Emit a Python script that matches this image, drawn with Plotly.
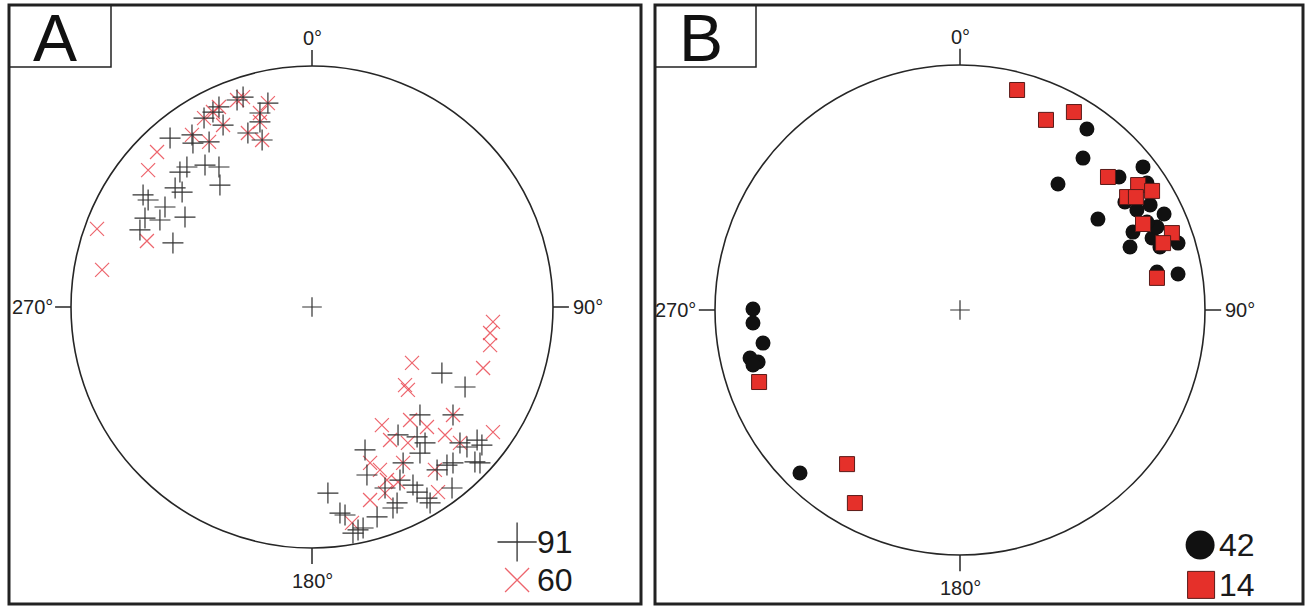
import plotly.graph_objects as go

# ---------------- data (net coordinates: east, north; primitive circle radius = 1) ----------------
PANEL_LABELS = ["A", "B"]
DIR_LABELS = ["0°", "90°", "180°", "270°"]
A_COUNTS = [91, 60]
B_COUNTS = [42, 14]

# Panel A, black "+"
A_PLUS_E = [-0.589, -0.494, -0.519, -0.548, -0.444, -0.386, -0.382, -0.568, -0.539, -0.701,
            -0.680, -0.610, -0.693, -0.631, -0.527, -0.714, -0.577,
            -0.498, -0.448, -0.427, -0.386, -0.369, -0.311, -0.286, -0.216, -0.183, -0.266,
            -0.207, -0.216, -0.411,
            0.539, 0.635, 0.448, 0.585, 0.357, 0.436, 0.469, 0.220, 0.448, 0.643,
            0.685, 0.705, 0.378, 0.585, 0.676, 0.697, 0.228, 0.519, 0.560, 0.365,
            0.303, 0.419, 0.436, 0.477, 0.490, 0.581, 0.353, 0.336, 0.270, 0.066,
            0.116, 0.137, 0.191, 0.212, 0.170, 0.614]
A_PLUS_N = [0.701, 0.680, 0.581, 0.560, 0.589, 0.581, 0.506, 0.494, 0.477, 0.465,
            0.444, 0.415, 0.369, 0.361, 0.373, 0.320, 0.266,
            0.714, 0.784, 0.685, 0.830, 0.755, 0.859, 0.871, 0.805, 0.846, 0.722,
            0.693, 0.768, 0.809,
            -0.274, -0.332, -0.448, -0.448, -0.531, -0.539, -0.564, -0.593, -0.606, -0.581,
            -0.552, -0.573, -0.647, -0.647, -0.643, -0.647, -0.697, -0.676, -0.656, -0.718,
            -0.751, -0.739, -0.768, -0.793, -0.813, -0.751, -0.813, -0.834, -0.871, -0.772,
            -0.855, -0.863, -0.925, -0.917, -0.938, -0.564]

# Panel A, red "x"
A_CROSS_E = [-0.643, -0.680, -0.892, -0.871, -0.685,
             -0.498, -0.448, -0.427, -0.386, -0.369, -0.311, -0.286, -0.216, -0.183, -0.266,
             -0.207, -0.216, -0.411,
             0.751, 0.739, 0.739, 0.710, 0.415, 0.386, 0.398, 0.585, 0.290, 0.407,
             0.477, 0.552, 0.751, 0.324, 0.398, 0.614, 0.241, 0.282, 0.378, 0.311,
             0.357, 0.510, 0.523, 0.303, 0.241, 0.166]
A_CROSS_N = [0.643, 0.568, 0.324, 0.154, 0.274,
             0.714, 0.784, 0.685, 0.830, 0.755, 0.859, 0.871, 0.805, 0.846, 0.722,
             0.693, 0.768, 0.809,
             -0.062, -0.108, -0.158, -0.253, -0.232, -0.324, -0.344, -0.448, -0.490, -0.469,
             -0.498, -0.531, -0.519, -0.552, -0.564, -0.564, -0.647, -0.676, -0.647, -0.718,
             -0.726, -0.676, -0.768, -0.772, -0.801, -0.896]

# Panel B, black dots
B_DOT_E = [0.518, 0.502, 0.400, 0.747, 0.649, 0.763, 0.673, 0.776, 0.722, 0.563,
           0.833, 0.706, 0.784, 0.694, 0.816, 0.890, 0.804, 0.890, 0.804, 0.763,
           -0.845, -0.845, -0.804, -0.857, -0.824, -0.845, -0.653]
B_DOT_N = [0.739, 0.620, 0.514, 0.584, 0.543, 0.518, 0.441, 0.429, 0.408, 0.371,
           0.392, 0.318, 0.294, 0.257, 0.257, 0.273, 0.339, 0.147, 0.155, 0.359,
           0.004, -0.053, -0.135, -0.196, -0.212, -0.224, -0.665]

# Panel B, red squares
B_SQ_E = [0.233, 0.351, 0.465, 0.604, 0.727, 0.682, 0.718, 0.784, 0.747, 0.865,
          0.829, 0.804, -0.820, -0.461, -0.429]
B_SQ_N = [0.898, 0.776, 0.808, 0.543, 0.510, 0.461, 0.461, 0.486, 0.351, 0.314,
          0.273, 0.131, -0.294, -0.629, -0.788]

# ---------------- layout geometry ----------------
W, H = 1307, 607
A_CX, A_CY, A_R = 312, 307, 241
B_CX, B_CY, B_R = 960, 310, 245
SPLIT = 650

INK = "#262626"
RED_X = "rgba(232,62,72,0.80)"
RED_SQ = "#e5302a"

fig = go.Figure()

def px(x):
    return x / W

def py(y):
    return 1 - y / H

# panel A traces
fig.add_trace(go.Scatter(x=A_CROSS_E, y=A_CROSS_N, mode="markers", xaxis="x", yaxis="y",
                         marker=dict(symbol="x-thin", size=14, line=dict(width=1.2, color=RED_X)),
                         hoverinfo="skip", showlegend=False))
fig.add_trace(go.Scatter(x=A_PLUS_E, y=A_PLUS_N, mode="markers", xaxis="x", yaxis="y",
                         marker=dict(symbol="cross-thin", size=15, line=dict(width=1.2, color="#333333")),
                         hoverinfo="skip", showlegend=False))
# panel B traces
fig.add_trace(go.Scatter(x=B_DOT_E, y=B_DOT_N, mode="markers", xaxis="x2", yaxis="y2",
                         marker=dict(symbol="circle", size=15, color="#111111"),
                         hoverinfo="skip", showlegend=False))
fig.add_trace(go.Scatter(x=B_SQ_E, y=B_SQ_N, mode="markers", xaxis="x2", yaxis="y2",
                         marker=dict(symbol="square", size=15, color=RED_SQ,
                                     line=dict(width=1, color="#5a1a18")),
                         hoverinfo="skip", showlegend=False))

# centre crosses
for xa, ya in (("x", "y"), ("x2", "y2")):
    fig.add_trace(go.Scatter(x=[0], y=[0], mode="markers", xaxis=xa, yaxis=ya,
                             marker=dict(symbol="cross-thin", size=14, line=dict(width=1.2, color="#333333")),
                             hoverinfo="skip", showlegend=False))

# legend symbols (in net coordinates)
fig.add_trace(go.Scatter(x=[0.851], y=[-0.975], mode="markers", xaxis="x", yaxis="y",
                         marker=dict(symbol="cross-thin", size=28, line=dict(width=1.3, color="#333333")),
                         hoverinfo="skip", showlegend=False))
fig.add_trace(go.Scatter(x=[0.851], y=[-1.133], mode="markers", xaxis="x", yaxis="y",
                         marker=dict(symbol="x-thin", size=24, line=dict(width=1.3, color=RED_X)),
                         hoverinfo="skip", showlegend=False))
fig.add_trace(go.Scatter(x=[0.980], y=[-0.959], mode="markers", xaxis="x2", yaxis="y2",
                         marker=dict(symbol="circle", size=29, color="#111111"),
                         hoverinfo="skip", showlegend=False))
fig.add_trace(go.Scatter(x=[0.984], y=[-1.122], mode="markers", xaxis="x2", yaxis="y2",
                         marker=dict(symbol="square", size=27, color=RED_SQ,
                                     line=dict(width=1, color="#5a1a18")),
                         hoverinfo="skip", showlegend=False))

shapes = []
annotations = []

def net(xa, ya, counts, legend_x, legend_ys):
    shapes.append(dict(type="circle", xref=xa, yref=ya, x0=-1, y0=-1, x1=1, y1=1,
                       line=dict(color=INK, width=1.6)))
    tk = 0.066
    for (x0, y0, x1, y1) in ((0, 1, 0, 1 + tk), (1, 0, 1 + tk, 0), (0, -1, 0, -1 - tk), (-1, 0, -1 - tk, 0)):
        shapes.append(dict(type="line", xref=xa, yref=ya, x0=x0, y0=y0, x1=x1, y1=y1,
                           line=dict(color=INK, width=1.5)))
    f = dict(family="Liberation Sans, Arial", size=20, color="#222222")
    annotations.append(dict(text=DIR_LABELS[0], x=0, y=1.115, xref=xa, yref=ya, showarrow=False, font=f,
                            xanchor="center", yanchor="middle"))
    annotations.append(dict(text=DIR_LABELS[1], x=1.075, y=0, xref=xa, yref=ya, showarrow=False, font=f,
                            xanchor="left", yanchor="middle"))
    annotations.append(dict(text=DIR_LABELS[2], x=0, y=-1.135, xref=xa, yref=ya, showarrow=False, font=f,
                            xanchor="center", yanchor="middle"))
    annotations.append(dict(text=DIR_LABELS[3], x=-1.068, y=0, xref=xa, yref=ya, showarrow=False, font=f,
                            xanchor="right", yanchor="middle"))
    lf = dict(family="Liberation Sans, Arial", size=32, color="#1a1a1a")
    for c, ly in zip(counts, legend_ys):
        annotations.append(dict(text=str(c), x=legend_x, y=ly, xref=xa, yref=ya, showarrow=False, font=lf,
                                xanchor="left", yanchor="middle"))

net("x", "y", A_COUNTS, 0.925, [-0.975, -1.133])
net("x2", "y2", B_COUNTS, 1.05, [-0.959, -1.122])

# panel frames and label boxes
for (x0, x1) in ((9, 641), (655, 1303)):
    shapes.append(dict(type="rect", xref="paper", yref="paper", x0=px(x0), x1=px(x1), y0=py(604), y1=py(5),
                       line=dict(color="#222222", width=3)))
for (x0, x1), lab in zip(((9, 111), (655, 756)), PANEL_LABELS):
    shapes.append(dict(type="rect", xref="paper", yref="paper", x0=px(x0), x1=px(x1), y0=py(67), y1=py(5),
                       line=dict(color="#222222", width=1.5)))
    annotations.append(dict(text=lab, x=px((x0 + x1) / 2 - 5), y=py(38), xref="paper", yref="paper",
                            showarrow=False, xanchor="center", yanchor="middle",
                            font=dict(family="Liberation Sans, Arial", size=66, color="#111111")))

ax_common = dict(visible=False, autorange=False, fixedrange=True, showgrid=False, zeroline=False)
fig.update_layout(
    width=W, height=H, margin=dict(l=0, r=0, t=0, b=0),
    paper_bgcolor="white", plot_bgcolor="rgba(0,0,0,0)",
    xaxis=dict(domain=[0, SPLIT / W], range=[(0 - A_CX) / A_R, (SPLIT - A_CX) / A_R], **ax_common),
    yaxis=dict(domain=[0, 1], range=[(A_CY - H) / A_R, A_CY / A_R], **ax_common),
    xaxis2=dict(domain=[SPLIT / W, 1], range=[(SPLIT - B_CX) / B_R, (W - B_CX) / B_R], **ax_common),
    yaxis2=dict(domain=[0, 1], range=[(B_CY - H) / B_R, B_CY / B_R], **ax_common),
    shapes=shapes, annotations=annotations, showlegend=False,
)

fig.write_html("out.html", config={"displayModeBar": False},
               post_script="document.body.style.margin='0';document.body.style.overflow='hidden';")
